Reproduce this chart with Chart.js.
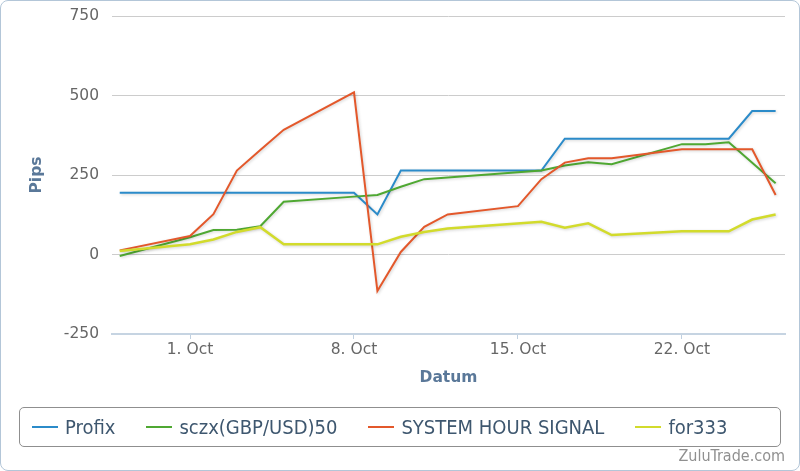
<!DOCTYPE html>
<html>
<head>
<meta charset="utf-8">
<title>Pips</title>
<script src="https://cdn.jsdelivr.net/npm/chart.js@4/dist/chart.umd.min.js"></script>
<style>
  body { margin: 0; background: #fff; }
  .wrap { position: relative; width: 800px; height: 471px; }
  #chart { position: absolute; left: 0; top: 0; }
  .frame {
    position: absolute; left: 0; top: 0; width: 800px; height: 471px;
    box-sizing: border-box; border: 1px solid #b3c6d8; border-radius: 8px;
    pointer-events: none;
  }
  .legend {
    position: absolute; left: 19px; top: 407px; width: 762px; height: 40px;
    box-sizing: border-box; border: 1px solid #8f8f8f; border-radius: 5px;
    display: flex; align-items: center; padding-left: 12px;
    font-family: "DejaVu Sans Condensed", "DejaVu Sans", sans-serif;
    font-stretch: condensed; font-size: 20px; color: #3e576f;
  }
  .legend-item { display: flex; align-items: center; margin-right: 31px; }
  .legend-line { width: 26px; height: 2px; margin-right: 7px; }
  .credit {
    position: absolute; right: 15px; top: 446px;
    font-family: "DejaVu Sans Condensed", "DejaVu Sans", sans-serif;
    font-stretch: condensed; font-size: 16px; color: #909090;
  }
</style>
</head>
<body>
<div class="wrap">
  <canvas id="chart" width="800" height="471"></canvas>
  <div class="legend" id="legend"></div>
  <div class="credit">ZuluTrade.com</div>
  <div class="frame"></div>
</div>
<script>
// DATA (day of October, Sep 28 = -2)
const days = [-2, -1, 0, 1, 2, 3, 4, 5, 6, 7, 8, 9, 10, 11, 12, 13, 14, 15, 16, 17, 18, 19, 20, 21, 22, 23, 24, 25, 26];
const tickDays = [1, 8, 15, 22];
const tickMonth = "Oct";
const yTicks = [-250, 0, 250, 500, 750];

const profix = [194, 194, 194, 194, 194, 194, 194, 194, 194, 194, 194, 126, 264, 264, 264, 264, 264, 264, 264, 364, 364, 364, 364, 364, 364, 364, 364, 451, 451];
const sczx = [-5, null, null, 54, 77, 78, 89, 166, null, null, 182, 187, 213, 237, null, null, null, null, 264, 280, 290, 284, null, null, 347, 347, 353, null, 224];
const systemHour = [13, null, null, 58, 127, 264, 329, 392, null, null, 510, -115, 8, 87, 126, null, null, 152, 237, 289, 303, 303, null, null, 331, 331, 331, 331, 187];
const for333 = [11, null, null, 32, 47, 71, 86, 32, 32, 32, 32, 32, 56, 71, 82, null, null, null, 103, 84, 98, 61, null, null, 73, 73, 73, 110, 126];

const seriesNames = ["Profix", "sczx(GBP/USD)50", "SYSTEM HOUR SIGNAL", "for333"];
const seriesColors = ["#2b8bc9", "#4fa832", "#e3582b", "#d2db2c"];

document.addEventListener("DOMContentLoaded", () => {
  const tickFont = { family: "'DejaVu Sans', sans-serif", size: 15.5 };
  const titleFont = { family: "'DejaVu Sans', sans-serif", size: 15.5, weight: "bold" };
  const titleColor = "#5a7899";

  function toPoints(values) {
    return values.map((v, i) => ({ x: days[i], y: v }));
  }

  const allSeries = [profix, sczx, systemHour, for333];

  const datasets = allSeries.map((values, i) => ({
    label: seriesNames[i],
    data: toPoints(values),
    borderColor: seriesColors[i],
    backgroundColor: seriesColors[i],
    borderWidth: i === 3 ? 2.5 : 2,
    pointRadius: 0,
    tension: 0,
    spanGaps: true,
    order: allSeries.length - i
  }));

  // soft shadow under each line
  const lineShadow = {
    id: "lineShadow",
    beforeDatasetDraw(chart) {
      const ctx = chart.ctx;
      ctx.save();
      ctx.shadowColor = "rgba(0, 0, 0, 0.18)";
      ctx.shadowBlur = 3;
      ctx.shadowOffsetX = 1;
      ctx.shadowOffsetY = 1;
    },
    afterDatasetDraw(chart) {
      chart.ctx.restore();
    }
  };

  new Chart(document.getElementById("chart"), {
    type: "line",
    data: { datasets: datasets },
    plugins: [lineShadow],
    options: {
      responsive: false,
      animation: false,
      layout: { padding: { left: 0, right: 15, top: 16, bottom: 77 } },
      plugins: {
        legend: { display: false },
        tooltip: { enabled: false }
      },
      scales: {
        x: {
          type: "linear",
          min: -2.33,
          max: 26.4,
          afterBuildTicks: (axis) => {
            axis.ticks = tickDays.map((v) => ({ value: v }));
          },
          afterFit: (axis) => {
            axis.height = 60;
          },
          ticks: {
            autoSkip: false,
            maxRotation: 0,
            padding: 2,
            color: "#666666",
            font: tickFont,
            callback: (value) => value + ". " + tickMonth
          },
          grid: {
            drawOnChartArea: false,
            drawTicks: true,
            tickLength: 5,
            color: "#c0d0e0"
          },
          border: { display: true, color: "#c6d4e2", width: 2 },
          title: {
            display: true,
            text: "Datum",
            color: titleColor,
            font: titleFont,
            padding: { top: 0, bottom: 7 }
          }
        },
        y: {
          min: -250,
          max: 750,
          afterBuildTicks: (axis) => {
            axis.ticks = yTicks.map((v) => ({ value: v }));
          },
          afterFit: (axis) => {
            axis.width = 112;
            axis.paddingTop = 0;
            axis.paddingBottom = 0;
          },
          ticks: {
            padding: 13,
            color: "#666666",
            font: tickFont
          },
          grid: {
            drawTicks: false,
            color: "#cccccc"
          },
          border: { display: false },
          title: {
            display: true,
            text: "Pips",
            color: titleColor,
            font: titleFont,
            padding: { top: 28, bottom: 0 }
          }
        }
      }
    }
  });

  // LEGEND
  const legend = document.getElementById("legend");
  seriesNames.forEach((name, i) => {
    const item = document.createElement("div");
    item.className = "legend-item";
    const line = document.createElement("span");
    line.className = "legend-line";
    line.style.background = seriesColors[i];
    const text = document.createElement("span");
    text.textContent = name;
    item.appendChild(line);
    item.appendChild(text);
    legend.appendChild(item);
  });
});
</script>
</body>
</html>
